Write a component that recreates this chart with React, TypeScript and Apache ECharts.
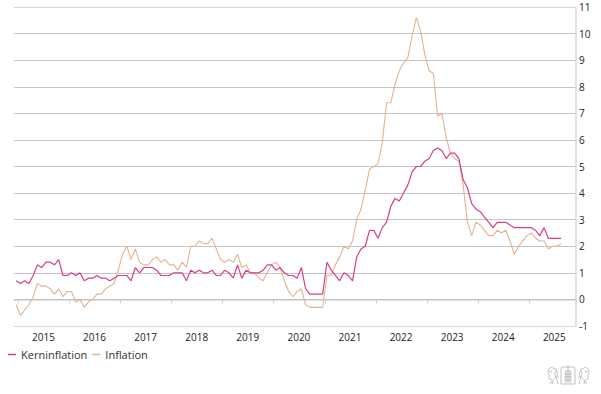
import React, { useEffect, useRef } from "react";
import * as echarts from "echarts";

// Monthly categories: Dec 2014 .. Nov 2025 (axis runs a bit past the last observation)
const startYear = 2014;
const startMonth = 12;
const monthCount = 132;
const months: string[] = [];
for (let k = 0; k < monthCount; k++) {
  const m0 = startMonth - 1 + k;
  const y = startYear + Math.floor(m0 / 12);
  const m = (m0 % 12) + 1;
  months.push(`${y}-${m < 10 ? "0" + m : m}`);
}

// Kerninflation, Dec 2014 .. Aug 2025 (%)
const kerninflation: (number | null)[] = [
  0.7,
  0.6, 0.7, 0.6, 0.9, 1.3, 1.2, 1.4, 1.4, 1.3, 1.5, 0.9, 0.9,
  1.0, 0.9, 1.0, 0.7, 0.8, 0.8, 0.9, 0.8, 0.8, 0.7, 0.8, 0.9,
  0.9, 0.9, 0.7, 1.2, 1.0, 1.2, 1.2, 1.2, 1.1, 0.9, 0.9, 0.9,
  1.0, 1.0, 1.0, 0.7, 1.1, 1.0, 1.1, 1.0, 1.0, 1.1, 0.9, 0.9,
  1.1, 1.0, 0.8, 1.3, 0.8, 1.1, 1.0, 1.0, 1.0, 1.1, 1.3, 1.3,
  1.1, 1.2, 1.0, 0.9, 0.9, 0.8, 1.2, 0.4, 0.2, 0.2, 0.2, 0.2,
  1.4, 1.1, 0.9, 0.7, 1.0, 0.9, 0.7, 1.6, 1.9, 2.0, 2.6, 2.6,
  2.3, 2.7, 2.9, 3.5, 3.8, 3.7, 4.0, 4.3, 4.8, 5.0, 5.0, 5.2,
  5.3, 5.6, 5.7, 5.6, 5.3, 5.5, 5.5, 5.3, 4.5, 4.2, 3.6, 3.4,
  3.3, 3.1, 2.9, 2.7, 2.9, 2.9, 2.9, 2.8, 2.7, 2.7, 2.7, 2.7,
  2.7, 2.6, 2.4, 2.7, 2.3, 2.3, 2.3, 2.3,
];

// Inflation, Dec 2014 .. Aug 2025 (%)
const inflation: (number | null)[] = [
  -0.2,
  -0.6, -0.4, -0.2, 0.1, 0.6, 0.5, 0.5, 0.4, 0.2, 0.4, 0.1, 0.3,
  0.3, -0.1, 0.0, -0.3, -0.1, 0.0, 0.2, 0.2, 0.4, 0.5, 0.6, 1.1,
  1.7, 2.0, 1.5, 1.9, 1.4, 1.3, 1.3, 1.5, 1.6, 1.4, 1.5, 1.3,
  1.3, 1.1, 1.4, 1.2, 2.0, 2.0, 2.2, 2.1, 2.1, 2.3, 1.9, 1.5,
  1.4, 1.5, 1.4, 1.7, 1.2, 1.3, 1.0, 1.0, 0.8, 0.7, 1.0, 1.3,
  1.4, 1.2, 0.7, 0.3, 0.1, 0.3, 0.4, -0.2, -0.3, -0.3, -0.3, -0.3,
  0.9, 0.9, 1.3, 1.6, 2.0, 1.9, 2.2, 3.0, 3.4, 4.1, 4.9, 5.0,
  5.1, 5.9, 7.4, 7.4, 8.1, 8.6, 8.9, 9.1, 9.9, 10.6, 10.1, 9.2,
  8.6, 8.5, 6.9, 7.0, 6.1, 5.5, 5.3, 5.2, 4.3, 2.9, 2.4, 2.9,
  2.8, 2.6, 2.4, 2.4, 2.6, 2.5, 2.6, 2.2, 1.7, 2.0, 2.2, 2.4,
  2.5, 2.3, 2.2, 2.2, 1.9, 2.0, 2.0, 2.1,
];

const seriesNames = ["Kerninflation", "Inflation"];
const yMin = -1;
const yMax = 11;

const pad = (arr: (number | null)[]) => {
  const out = arr.slice();
  while (out.length < monthCount) out.push(null);
  return out;
};

const LION_D =
  "M3 5 C4 3 7 3 8 5 C9 4 11 5 10 7 C12 8 12 10 11 12 L13 14 M10 7 C8 9 9 11 10 12 C9 14 8 16 6 17 L4 20 M10 12 L11 16 L12 20 M6 17 L7 20 M3 5 L2 8 L5 8 L6 6 M1 10 C2 9 4 11 3 13 C2 15 4 16 6 15";
const SHIELD_D =
  "M15 5 Q15 3 17 3 L27 3 Q29 3 29 5 L29 20 L15 20 Z M22 1 L22 19 M19 7 L25 7 M18 10 L26 10 M18 13 L26 13 M18 16 L26 16 M20 19 L20 7 M24 19 L24 7";
try {
  echarts.graphic.registerShape("lion", echarts.graphic.extendPath(LION_D, {}) as any);
  echarts.graphic.registerShape("shield", echarts.graphic.extendPath(SHIELD_D, {}) as any);
} catch (e) {
  // already registered
}

const FONT = "'Open Sans', sans-serif";
const splitColors = [
  "#d6d6d6", "#8c8c8c", "#c4c4c4", "#c4c4c4", "#c4c4c4", "#c4c4c4", "#c4c4c4",
  "#c4c4c4", "#c4c4c4", "#c4c4c4", "#c4c4c4", "#c4c4c4", "#d6d6d6",
];

export default function App() {
  const ref = useRef<HTMLDivElement>(null);
  useEffect(() => {
    if (!ref.current) return;
    const chart = echarts.init(ref.current, null, { renderer: "svg" });
    const logoStyle = { stroke: "#a8a8a8", fill: "none", lineWidth: 0.7 };
    chart.setOption({
      animation: false,
      backgroundColor: "#ffffff",
      textStyle: { fontFamily: FONT },
      grid: { left: 14, right: 25, top: 7, bottom: 68, containLabel: false },
      legend: {
        data: seriesNames,
        left: 3,
        top: 344,
        icon: "rect",
        itemWidth: 8,
        itemHeight: 1.5,
        itemGap: 5,
        textStyle: { fontFamily: FONT, fontSize: 11, color: "#333" },
      },
      xAxis: {
        type: "category",
        data: months,
        boundaryGap: true,
        axisLine: { show: true, lineStyle: { color: "#d6d6d6", width: 1.5 } },
        axisTick: {
          show: true,
          interval: (_i: number, v: string) => v.endsWith("-01"),
          length: 4,
          lineStyle: { color: "#d0d0d0" },
        },
        axisLabel: {
          interval: (_i: number, v: string) => v.endsWith("-07"),
          formatter: (v: string) => v.slice(0, 4),
          fontSize: 10,
          color: "#222",
          margin: 6,
          padding: [0, 5, 0, 0],
        },
        splitLine: { show: false },
      },
      yAxis: {
        type: "value",
        position: "right",
        min: yMin,
        max: yMax,
        interval: 1,
        axisLine: { show: true, lineStyle: { color: "#d9d9d9", width: 1.5 } },
        axisTick: { show: false },
        axisLabel: { fontSize: 10, color: "#222", margin: 3 },
        splitLine: { show: true, lineStyle: { color: splitColors, width: 1 } },
      },
      series: [
        {
          name: "Inflation",
          type: "line",
          data: pad(inflation),
          showSymbol: false,
          symbol: "none",
          connectNulls: false,
          lineStyle: { color: "#e3b392", width: 1.1 },
          itemStyle: { color: "#e3b392" },
        },
        {
          name: "Kerninflation",
          type: "line",
          data: pad(kerninflation),
          showSymbol: false,
          symbol: "none",
          connectNulls: false,
          lineStyle: { color: "#d93d88", width: 1.2 },
          itemStyle: { color: "#d93d88" },
        },
      ],
      graphic: [
        { type: "lion", x: 546, y: 364, style: logoStyle, silent: true },
        { type: "shield", x: 546, y: 364, style: logoStyle, silent: true },
        { type: "lion", x: 591, y: 364, scaleX: -1, style: logoStyle, silent: true },
      ],
    });
    return () => chart.dispose();
  }, []);
  return (
    <div
      ref={ref}
      style={{ position: "absolute", left: 0, top: 0, width: 601, height: 394 }}
    />
  );
}
